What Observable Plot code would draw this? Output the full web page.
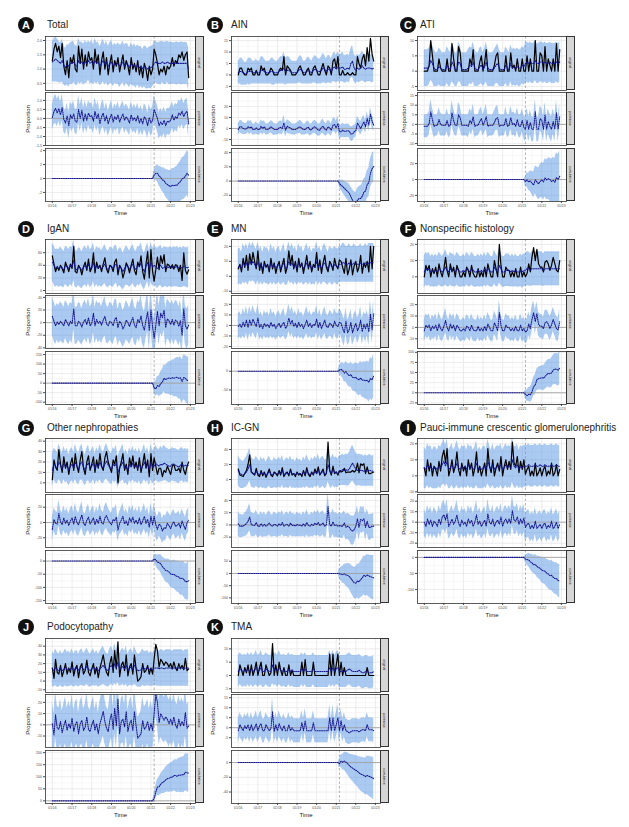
<!DOCTYPE html>
<html><head><meta charset="utf-8">
<script src="https://cdn.jsdelivr.net/npm/d3@7"></script>
<script src="https://cdn.jsdelivr.net/npm/@observablehq/plot@0.6"></script>
<style>
html,body{margin:0;padding:0;background:#fff;}
#root{position:relative;width:629px;height:827px;overflow:hidden;font-family:"Liberation Sans",Arial,sans-serif;}
.badge{position:absolute;width:16px;height:16px;border-radius:50%;background:#111;color:#fff;font-weight:bold;font-size:11px;line-height:16px;text-align:center;}
.title{position:absolute;font-size:10px;color:#222;white-space:nowrap;line-height:12px;}
.strip{position:absolute;box-sizing:border-box;background:#d6d6d6;border:0.8px solid #333;display:flex;align-items:center;justify-content:center;}
.strip span{writing-mode:vertical-rl;font-size:3.5px;color:#1a1a1a;white-space:nowrap;}
.ylab{position:absolute;font-size:6px;color:#1a1a1a;white-space:nowrap;transform:translate(-50%,-50%) rotate(-90deg);}
</style></head>
<body><div id="root"></div>
<script>
// ---------- data (monthly, Jan 2016 - Dec 2022) ----------
const totalObs = [1.3,1.7,1.9,1.6,1.8,1.4,1.9,1.1,0.8,1.3,0.7,1.4,
1.2,1.5,1.0,0.9,1.8,1.2,1.7,1.0,1.5,1.1,1.6,1.3,
1.4,1.0,1.7,1.2,1.5,0.8,1.3,1.6,1.0,1.4,0.8,1.2,
1.5,0.9,1.3,1.1,1.4,0.9,1.2,1.5,1.0,1.3,1.1,0.8,
1.4,1.0,1.2,0.9,1.3,0.8,1.1,0.7,1.2,1.0,0.6,1.1,
0.8,1.0,1.7,1.5,1.2,0.8,1.0,0.9,1.1,0.8,1.1,1.0,
1.1,1.4,1.1,1.3,1.2,1.5,1.4,1.6,1.3,1.5,1.6,0.7];
const totalPred = [1.25,1.30,1.35,1.30,1.25,1.20,1.30,1.15,1.05,1.15,1.10,1.20,
1.20,1.25,1.15,1.10,1.30,1.20,1.25,1.15,1.25,1.20,1.30,1.20,
1.25,1.15,1.30,1.20,1.25,1.10,1.20,1.30,1.15,1.25,1.10,1.20,
1.25,1.10,1.20,1.15,1.20,1.10,1.15,1.25,1.10,1.20,1.15,1.05,
1.20,1.10,1.15,1.05,1.15,1.05,1.10,1.00,1.10,1.05,1.00,1.05,
1.05,1.10,1.20,1.25,1.20,1.20,1.20,1.25,1.20,1.20,1.25,1.20,
1.20,1.20,1.20,1.20,1.20,1.20,1.20,1.20,1.20,1.20,1.20,1.00];
const totalBand = [0.70,0.75,0.80,0.76,0.72,0.70,0.74,0.70,0.66,0.70,0.74,0.72,
0.75,0.72,0.68,0.70,0.76,0.74,0.70,0.72,0.75,0.70,0.68,0.72,
0.74,0.70,0.76,0.72,0.70,0.68,0.72,0.75,0.70,0.73,0.70,0.72,
0.75,0.72,0.70,0.68,0.72,0.75,0.70,0.72,0.74,0.70,0.72,0.70,
0.72,0.70,0.74,0.72,0.70,0.73,0.70,0.68,0.72,0.74,0.70,0.72,
0.74,0.72,0.75,0.73,0.72,0.74,0.76,0.72,0.74,0.75,0.72,0.74,
0.75,0.73,0.72,0.74,0.76,0.72,0.74,0.75,0.73,0.74,0.72,0.74];
const totalCumBand = [0.7,1.0,1.2,1.4,1.55,1.7,1.85,2.0,2.1,2.2,2.3,2.4,2.5,2.6,2.7,2.8,2.9,3.0,3.05,3.1,3.2,3.3];

const ainObs = [0,3,3,1,0,0,3,2,3,0,0,2,
0,0,4,2,3,0,0,1,3,2,0,0,
0,2,3,2,8,0,4,3,2,0,0,0,
1,3,4,2,0,0,2,3,0,0,3,4,
2,0,0,3,5,2,0,4,3,0,6,7,
3,8,0,0,2,0,0,1,0,0,1,0,
0,8,5,3,7,9,4,12,6,16,9,6];
const ainPred = [1,1.5,1.5,1,0.5,0.5,1.5,1.5,1.5,1,1,1.5,
1,1,2,2,1.5,1,1,1,1.5,1.5,1,1,
1,1.5,2,2,3,1.5,2,2,1.5,1,1,1,
1,2,2.5,2,1,1,1.5,2,1.5,1,2,2.5,
2,1.5,1.5,2,3,2.5,1.5,2.5,2.5,1.5,3,3.5,
2.5,3.5,3,3,3.5,2.5,2.5,3,2.5,5,6,3,
2,3,2.5,3,4,3,2.5,3,3,3,2.5,3];
const ainBand = [5,5.5,6,5.5,5,5,5.5,6,5.5,5,5,5.5,
5,5,6,6,5.5,5,5,5,5.5,6,5.5,5,
5,5.5,6,6,7,6,6,6,5.5,5,5,5,
5,5.5,6,6,5,5,5.5,6,5.5,5,5.5,6,
6,5.5,5.5,6,6.5,6,5.5,6,6,5.5,6,6.5,
6,6.5,6,6,6.5,6,6,6,6,6.5,7,6,
6,6,6,6,6.5,6,6,6,6,6,6,6];
const ainCumBand = [5,7,9,10,11,12,13,14,15,15.5,16,16.5,17,17.5,18,18.5,19,19.5,20,20.5,21,21.5];

const atiObs = [0,0,0,2,10,5,0,0,0,4,1,0,
0,0,4,0,0,9,4,0,0,8,6,0,
0,0,0,0,4,2,7,0,0,0,3,5,
0,3,7,0,0,0,0,2,5,6,0,0,
0,0,5,0,0,6,1,2,0,4,0,0,
4,0,0,5,0,4,0,0,10,0,0,6,
5,0,8,0,4,2,0,4,0,9,0,7];
const atiPred = [1,1,1,1.5,3.5,2.5,1,0.5,0.5,1.5,1,0.5,
0.5,0.5,2,1,0.5,3,2,0.5,0.5,3,2.5,0.5,
0.5,0.5,0.5,1,2,1.5,3,1,0.5,0.5,1.5,2,
0.5,1.5,3,1,0.5,0.5,0.5,1,2,2.5,1,0.5,
0.5,0.5,2,1,0.5,2.5,1,1.5,1,1.5,1,1,
2,1.5,2.5,3,2.5,3,2.5,2.5,3.5,2.5,2.5,3,
3,2.5,3,2.5,2.5,3,2.5,2.5,2.5,3,2.5,3];
const atiBand = [6,6,6,6,6.5,6,6,5.5,5.5,6,6,5.5,
5.5,5.5,6,6,5.5,6.5,6,5.5,5.5,6.5,6,5.5,
5.5,5.5,5.5,6,6,6,6.5,6,5.5,5.5,6,6,
5.5,6,6.5,6,5.5,5.5,5.5,6,6,6.5,6,5.5,
5.5,5.5,6,6,5.5,6,6,6,6,6,6,6,
6,6,6.5,6.5,6.5,6.5,6.5,6.5,6.5,6.5,6.5,6.5,
6.5,6.5,6.5,6.5,6.5,6.5,6.5,6.5,6.5,6.5,6.5,6.5];
const atiCumBand = [6,9,11,13,14.5,16,17.5,19,20,21,22,23,24,25,26,27,28,29,30,31,31.5,32];

const ignObs = [55,42,30,38,32,40,35,28,45,38,30,42,
35,70,30,28,40,35,25,38,45,32,50,30,
36,60,28,45,35,40,30,42,52,34,28,40,
38,30,45,50,25,40,35,20,30,44,38,28,
40,50,32,25,45,38,55,30,18,42,62,20,
65,30,15,33,53,33,55,43,57,30,42,40,
35,41,34,41,40,30,40,16,60,32,26,33];
const ignPred = [45,40,35,37,35,38,36,33,40,38,35,40,
37,48,35,33,38,36,32,37,40,35,42,35,
37,45,33,40,36,38,34,38,42,36,33,38,
38,35,40,42,33,38,36,30,35,40,38,34,
38,42,36,33,40,38,44,35,30,38,45,33,
45,37,40,38,35,38,40,35,37,38,36,37,
38,36,38,37,38,36,37,36,38,37,36,37];
const ignBand = [30,31,30,29,30,31,30,29,30,31,30,30,
31,32,30,29,30,31,29,30,31,30,31,30,
30,31,29,30,31,30,29,30,31,30,29,30,
31,30,31,30,29,30,31,29,30,31,30,29,
30,31,30,29,30,31,32,30,29,30,31,30,
31,30,31,31,32,31,32,31,32,31,32,31,
32,31,32,31,32,31,32,31,32,31,32,32];
const ignCumBand = [30,40,48,55,61,66,71,76,81,85,89,93,97,101,104,108,111,114,117,120,123,126];

const mnObs = [5,8,3,12,6,14,4,15,8,16,10,5,
17,4,9,2,10,6,8,3,12,5,9,2,
7,10,3,8,12,2,6,17,8,14,5,10,
3,12,6,9,2,8,14,5,10,3,8,6,
16,4,11,2,9,14,6,3,10,8,4,12,
7,5,11,10,6,2,12,1,5,11,1,7,
10,3,6,14,2,9,6,10,3,20,5,20];
const mnPred = [6,7,5,9,7,9,6,10,8,10,8,6,
10,6,8,5,8,7,7,5,9,6,8,5,
7,8,5,7,9,5,6,10,7,9,6,8,
5,9,7,8,5,7,9,6,8,5,7,6,
10,6,8,5,8,9,7,5,8,7,6,8,
7,6,8,8,9,9,8,8,9,8,8,9,
8,8,8,9,8,8,9,8,9,9,9,9];
const mnBand = [12,12,11,13,12,13,12,13,12,13,12,12,
13,12,12,11,12,12,12,11,13,12,12,11,
12,12,11,12,13,11,12,13,12,13,12,12,
11,13,12,12,11,12,13,12,12,11,12,12,
13,12,12,11,12,13,12,11,12,12,12,12,
12,12,12,12,13,13,12,12,13,12,12,13,
12,12,12,13,12,12,13,12,13,13,13,13];
const mnCumBand = [12,17,21,24,27,29,31,33,35,37,39,41,43,44,46,48,49,51,53,55,56,58];

const nsObs = [0,7,4,7,0,5,2,6,0,8,3,0,
5,12,4,0,8,3,6,0,7,4,0,0,
3,0,6,4,0,7,2,0,0,5,0,3,
0,6,0,8,4,0,0,10,5,0,20,7,
0,0,6,4,4,0,3,0,5,0,0,6,
0,3,0,2,8,3,12,18,10,17,8,6,
6,3,9,10,8,4,7,12,8,4,3,10];
const nsPred = [3,5,4,5,3,4,3,4,3,5,4,3,
4,6,4,3,5,4,4,3,5,4,3,3,
4,3,5,4,3,5,4,3,3,4,3,4,
3,5,3,5,4,3,3,6,4,3,7,5,
3,3,4,4,4,3,4,3,4,3,3,4,
3,4,4,5,5,4,5,5,5,5,5,5,
5,4,5,5,5,5,5,5,5,5,5,5];
const nsBand = [10,10,10,10,9.5,10,9.5,10,9.5,10,10,9.5,
10,11,10,9.5,10,10,10,9.5,10,10,9.5,9.5,
10,9.5,10,10,9.5,10,10,9.5,9.5,10,9.5,10,
9.5,10,9.5,10,10,9.5,9.5,10.5,10,9.5,11,10,
9.5,9.5,10,10,10,9.5,10,9.5,10,9.5,9.5,10,
10,10,10,10.5,10.5,10,10.5,10.5,10.5,10.5,10.5,10.5,
10.5,10,10.5,10.5,10.5,10.5,10.5,10.5,10.5,10.5,10.5,10.5];
const nsCumBand = [10,14,17,19,21,23,25,27,28,29,30,31,32,33,34,35,36,37,38,39,40,41];

const otherObs = [3,22,15,12,32,18,10,25,14,20,8,18,
24,12,28,16,10,22,30,14,8,20,26,12,
18,25,10,22,14,28,16,12,24,30,20,15,
10,22,18,26,0,14,20,28,12,18,8,24,
16,26,14,20,12,24,10,18,28,14,22,6,
28,12,24,16,8,14,14,6,12,10,16,12,
8,16,18,12,12,14,10,20,12,8,16,20];
const otherPred = [12,18,16,14,20,17,13,19,15,17,12,16,
18,14,20,16,13,18,20,15,12,17,19,14,
16,19,13,18,15,20,16,14,18,21,17,15,
13,18,16,19,10,15,17,20,14,16,12,18,
15,19,15,17,14,18,13,16,20,15,18,12,
20,15,16,19,17,16,18,17,19,18,17,16,
16,18,17,17,16,15,17,18,16,17,16,17];
const otherBand = [16,15,16,15,17,16,15,16,15,16,15,16,
16,15,17,16,15,16,17,15,15,16,17,15,
16,16,15,16,15,17,16,15,16,17,16,15,
15,16,16,17,15,15,16,17,15,16,15,16,
15,16,15,16,15,16,15,16,17,15,16,15,
17,16,16,17,16,16,17,16,17,16,16,16,
16,16,16,16,16,16,16,16,16,16,16,16];
const otherCumBand = [15,21,26,30,34,37,40,43,45,48,50,52,54,56,58,60,62,64,66,68,70,72];

const icgnObs = [14,6,5,4,8,12,20,33,10,8,6,15,
6,4,12,5,10,3,8,14,6,4,10,8,
5,12,6,16,4,8,10,5,14,6,8,4,
10,6,8,4,12,5,16,7,4,10,6,14,
8,17,6,10,14,5,8,50,12,6,18,8,
10,6,11,10,11,15,9,10,10,10,12,10,
12,22,9,21,19,21,8,17,8,8,9,10];
const icgnPred = [12,8,7,6,8,10,14,20,10,8,7,11,
8,6,10,7,9,5,8,11,7,6,9,8,
7,10,7,12,6,8,9,7,11,7,8,6,
9,7,8,6,10,7,12,8,6,9,7,11,
8,13,7,9,11,7,8,20,12,8,13,9,
10,8,12,12,13,12,13,12,14,18,22,18,
14,12,13,12,12,11,12,11,12,12,11,12];
const icgnBand = [20,19,19,18,19,20,21,22,20,19,19,20,
19,18,20,19,20,18,19,20,19,18,20,19,
19,20,19,20,18,19,20,19,20,19,19,18,
20,19,19,18,20,19,21,19,18,20,19,20,
19,21,19,20,20,19,19,23,21,20,21,20,
20,19,20,20,21,20,21,21,22,23,24,23,
22,21,21,21,21,20,21,20,21,21,20,21];
const icgnCumBand = [20,28,35,40,45,49,53,57,60,63,66,69,72,74,77,79,81,84,86,88,90,92];

const pauciObs = [5,0,10,3,8,0,6,4,0,9,3,12,
16,8,17,0,4,10,2,6,15,4,0,8,
3,6,0,10,4,8,0,5,15,2,6,0,
4,8,0,17,6,2,10,0,5,8,3,12,
0,6,10,4,9,4,21,8,6,12,2,9,
4,10,1,4,6,0,3,0,8,0,2,5,
0,4,6,0,3,1,8,0,2,7,0,4];
const pauciPred = [5,4,7,5,6,4,5,5,4,6,5,7,
9,6,9,4,5,7,4,5,8,5,4,6,
5,6,4,7,5,6,4,5,8,4,5,4,
5,6,4,9,6,4,7,4,5,6,5,7,
4,5,7,5,6,5,10,6,5,7,4,6,
5,6,6,6,7,6,6,6,7,6,6,7,
6,6,7,6,6,6,7,6,6,7,6,6];
const pauciBand = [13,12,13,13,13,12,13,13,12,13,13,13,
14,13,14,12,13,13,12,13,14,13,12,13,
13,13,12,13,13,13,12,13,14,12,13,12,
13,13,12,14,13,12,13,12,13,13,13,13,
12,13,13,13,13,13,14,13,13,13,12,13,
13,13,13,13,13,13,13,13,13,13,13,13,
13,13,13,13,13,13,13,13,13,13,13,13];
const pauciCumBand = [12,17,21,24,27,29,31,33,35,37,39,40,42,43,45,46,47,48,49,50,51,52];

const podoObs = [15,3,25,10,8,18,5,12,20,8,15,10,
22,6,14,18,4,16,20,8,12,24,10,6,
14,20,8,16,4,15,22,30,18,10,6,20,
28,10,35,14,45,5,18,22,12,30,6,16,
20,8,30,14,0,2,5,20,10,12,18,8,
15,8,25,42,35,16,25,22,18,22,20,16,
20,14,22,15,12,20,14,18,13,26,12,14];
const podoPred = [14,12,16,13,12,15,12,13,16,13,14,13,
16,12,14,15,12,15,16,13,14,17,14,12,
14,16,13,15,12,14,16,18,15,13,12,16,
18,14,20,15,22,13,15,17,14,18,12,15,
16,13,18,15,12,12,13,16,14,14,15,13,
14,13,15,15,15,14,15,15,14,15,15,15,
15,14,15,15,15,15,15,15,14,15,15,15];
const podoBand = [20,19,21,20,19,20,19,20,21,20,20,19,
21,19,20,20,19,20,21,19,20,21,20,19,
20,21,19,20,19,20,21,22,20,19,19,21,
22,20,23,20,24,19,20,21,20,22,19,20,
21,19,22,20,19,19,20,21,20,20,20,19,
20,19,20,20,21,20,21,21,20,21,21,21,
21,20,21,21,21,21,21,21,20,21,21,21];
const podoCumBand = [20,27,33,38,42,46,49,52,55,58,60,62,64,66,68,70,72,73,75,77,78,80];

const tmaObs = [0,4,2,0,3,1,4,0,4,0,2,5,
0,3,5,0,0,4,2,0,1,12,0,4,
0,5,2,0,3,0,0,4,0,2,0,0,
0,0,0,5,0,6,0,0,0,0,5,0,
0,0,0,0,0,0,0,0,8,0,8,0,
4,8,0,5,0,3,0,0,0,0,0,0,
0,0,0,0,0,0,0,3,0,0,0,0];
const tmaPred = [1.5,2.5,2,1.5,2,1.5,2.5,1.5,2.5,1.5,2,3,
1.5,2,3,1.5,1.5,2.5,2,1.5,1.5,4,2,2.5,
1.5,3,2,1.5,2,1.5,1.5,2.5,1.5,2,1.5,1.5,
1.5,1.5,1.5,2.5,1.5,2.5,1.5,1.5,1.5,1.5,2.5,1.5,
1.5,1.5,1.5,1.5,1.5,1.5,1.5,1.5,3,1.5,3,1.5,
2.5,3,1.5,1.5,1.5,1.5,1.5,2,2.5,2,1.5,1.5,
1.5,1.5,2,1.5,1,1,1.5,1.5,1,1,1,1.5];
const tmaBand = [6,6,6,6,6,6,6,6,6,6,6,6.5,
6,6,6.5,6,6,6,6,6,6,7,6,6,
6,6.5,6,6,6,6,6,6,6,6,6,6,
6,6,6,6,6,6,6,6,6,6,6,6,
6,6,6,6,6,6,6,6,6.5,6,6.5,6,
6,6.5,6,6,6,6,6,6,6,6,6,6,
6,6,6,6,6,6,6,6,6,6,6,6];
const tmaCumBand = [6,8.5,10.5,12,13.5,15,16,17,18,19,20,21,22,23,23.5,24,25,26,27,27.5,28,29];

const stripLabels = ["original", "pointwise", "cumulative"];

// ---------- panel definitions ----------
const panels = [
  {letter:"A", title:"Total", col:0, row:0, obs:totalObs, pred:totalPred, band:totalBand, cumBand:totalCumBand,
   y:[{domain:[0.25,2.14], ticks:[0.5,1,1.5,2], dec:1},{domain:[-1.5,1.44], ticks:[-1.5,-1,-0.5,0,0.5,1], dec:1},{domain:[-3.3,4.3], ticks:[-2,0,2,4]}]},
  {letter:"B", title:"AIN", col:1, row:0, obs:ainObs, pred:ainPred, band:ainBand, cumBand:ainCumBand,
   y:[{domain:[-6.8,16.8], ticks:[-5,0,5,10,15]},{domain:[-15.5,32.7], ticks:[-10,0,10,20]},{domain:[-28.7,45.8], ticks:[-20,0,20,40]}]},
  {letter:"C", title:"ATI", col:2, row:0, obs:atiObs, pred:atiPred, band:atiBand, cumBand:atiCumBand,
   y:[{domain:[-6.3,11.3], ticks:[-5,0,5,10]},{domain:[-11,16.6], ticks:[-10,-5,0,5,10,15]},{domain:[-27.7,39], ticks:[-20,0,20]}]},
  {letter:"D", title:"IgAN", col:0, row:1, obs:ignObs, pred:ignPred, band:ignBand, cumBand:ignCumBand,
   y:[{domain:[-4.7,81], ticks:[0,20,40,60]},{domain:[-41,43], ticks:[-40,-20,0,20,40]},{domain:[-112,166], ticks:[-100,-50,0,50,100,150]}]},
  {letter:"E", title:"MN", col:1, row:1, obs:mnObs, pred:mnPred, band:mnBand, cumBand:mnCumBand,
   y:[{domain:[-11.5,24.6], ticks:[-10,0,10,20]},{domain:[-21.9,28.4], ticks:[-20,-10,0,10,20]},{domain:[-89,52.7], ticks:[-50,0]}]},
  {letter:"F", title:"Nonspecific histology", col:2, row:1, obs:nsObs, pred:nsPred, band:nsBand, cumBand:nsCumBand,
   y:[{domain:[-10.3,23], ticks:[0,10,20]},{domain:[-18.5,28], ticks:[-10,0,10,20]},{domain:[-29,102], ticks:[-25,0,25,50,75,100]}]},
  {letter:"G", title:"Other nephropathies", col:0, row:2, obs:otherObs, pred:otherPred, band:otherBand, cumBand:otherCumBand,
   y:[{domain:[-9.3,42.6], ticks:[0,10,20,30,40]},{domain:[-32.7,36.6], ticks:[-20,0,20]},{domain:[-161,40], ticks:[-150,-100,-50,0]}]},
  {letter:"H", title:"IC-GN", col:1, row:2, obs:icgnObs, pred:icgnPred, band:icgnBand, cumBand:icgnCumBand,
   y:[{domain:[-17.3,54.7], ticks:[0,20,40]},{domain:[-37,49.8], ticks:[-20,0,20,40]},{domain:[-123,94], ticks:[-100,-50,0,50]}]},
  {letter:"I", title:"Pauci-immune crescentic glomerulonephritis", col:2, row:2, obs:pauciObs, pred:pauciPred, band:pauciBand, cumBand:pauciCumBand,
   y:[{domain:[-10.4,23.3], ticks:[-10,0,10,20]},{domain:[-24.1,26.4], ticks:[-20,-10,0,10,20]},{domain:[-144,21.5], ticks:[-100,-50,0]}]},
  {letter:"J", title:"Podocytopathy", col:0, row:3, obs:podoObs, pred:podoPred, band:podoBand, cumBand:podoCumBand,
   y:[{domain:[-13.1,48.8], ticks:[-10,0,10,20,30,40]},{domain:[-20.2,27], ticks:[-10,0,10,20]},{domain:[-11,209], ticks:[0,50,100,150,200]}]},
  {letter:"K", title:"TMA", col:1, row:3, obs:tmaObs, pred:tmaPred, band:tmaBand, cumBand:tmaCumBand,
   y:[{domain:[-6.4,13.9], ticks:[-5,0,5,10]},{domain:[-9.9,16.6], ticks:[-5,0,5,10,15]},{domain:[-55.6,16.4], ticks:[-40,-20,0]}]}
];

// ---------- layout ----------
const cols = [
  {L:45, W:150, badgeX:26, titleX:47, propX:28},
  {L:231, W:149, badgeX:215, titleX:231, propX:213},
  {L:417, W:149, badgeX:408, titleX:420, propX:404}
];
const rowTops = [36, 239, 438, 638];
const badgeYs = [25, 229, 428, 627];
const subs = [[0,54],[56,109],[112,165]];
const STRIP = 9, ML = 22, MB = 18;

// ---------- time axis ----------
const months = d3.utcMonth.range(new Date(Date.UTC(2016,0,1)), new Date(Date.UTC(2023,0,1)));
const intervention = new Date(Date.UTC(2021,2,1));
const postStart = months.findIndex(d => +d === +intervention);
const yearTicks = d3.utcYear.range(new Date(Date.UTC(2016,0,1)), new Date(Date.UTC(2023,0,2)));
const midYears = yearTicks.slice(0,-1).map(d => d3.utcMonth.offset(d, 6));
const span = months[months.length-1] - months[0];
const xDomain = [new Date(+months[0] - span*0.05), new Date(+months[months.length-1] + span*0.05)];
const fmtMonth = d3.utcFormat("%m/%y");

function buildRows(p) {
  let c = 0;
  return months.map((date, i) => {
    const obs = p.obs[i], pred = p.pred[i], hw = p.band[i];
    const pw = obs - pred;
    let cum = 0, cLo = 0, cHi = 0;
    if (i >= postStart) {
      c += pw; cum = c;
      const h = p.cumBand[i - postStart];
      cLo = c - h; cHi = c + h;
    }
    return {date, obs, pred, lo: pred - hw, hi: pred + hw, pw, pwLo: pw - hw, pwHi: pw + hw, cum, cLo, cHi};
  });
}
function minorOf(ticks, dom) {
  const s = ticks[1] - ticks[0], out = [];
  for (let v = ticks[0] - s/2; v <= ticks[ticks.length-1] + s/2 + 1e-9; v += s)
    if (v >= dom[0] && v <= dom[1]) out.push(v);
  return out;
}

const root = document.getElementById("root");
function addDiv(cls, css, html) {
  const d = document.createElement("div");
  if (cls) d.className = cls;
  Object.assign(d.style, css);
  if (html != null) d.innerHTML = html;
  root.appendChild(d);
  return d;
}

function subPlot(p, k, rows, col, h, isBottom) {
  const spec = p.y[k];
  const f = [["lo","hi","pred"],["pwLo","pwHi","pw"],["cLo","cHi","cum"]][k];
  const tf = spec.dec ? (d => d.toFixed(spec.dec)) : (d => String(d));
  const marks = [
    Plot.ruleX(midYears, {stroke:"#efefef", strokeWidth:0.5}),
    Plot.ruleX(yearTicks, {stroke:"#e4e4e4", strokeWidth:0.7}),
    Plot.ruleY(minorOf(spec.ticks, spec.domain), {stroke:"#efefef", strokeWidth:0.5}),
    Plot.ruleY(spec.ticks, {stroke:"#e4e4e4", strokeWidth:0.7}),
    Plot.areaY(rows, {x:"date", y1:f[0], y2:f[1], fill:"#3d85e0", fillOpacity:0.43, clip:true})
  ];
  if (k > 0) marks.push(Plot.ruleY([0], {stroke:"#a3a3a3", strokeWidth:0.9}));
  marks.push(Plot.ruleX([intervention], {stroke:"#8f8f8f", strokeWidth:0.7, strokeDasharray:"2.5,2"}));
  if (k === 0) marks.push(Plot.lineY(rows, {x:"date", y:"obs", stroke:"#000", strokeWidth:1.2, clip:true}));
  marks.push(Plot.lineY(rows, {x:"date", y:f[2], stroke:"#15158f", strokeWidth:1.05, strokeDasharray:"1,1.2", clip:true}));
  marks.push(Plot.axisY(spec.ticks, {tickSize:2, tickPadding:1.5, fontSize:3.6, tickFormat:tf, label:null}));
  if (isBottom) {
    marks.push(Plot.axisX(yearTicks, {tickSize:2, tickPadding:1.5, fontSize:3.4, tickFormat:fmtMonth, label:null}));
    marks.push(Plot.text(["Time"], {text:d => d, frameAnchor:"bottom", dy:13, fontSize:6, fill:"#1a1a1a"}));
  }
  marks.push(Plot.frame({stroke:"#333", strokeWidth:0.8}));
  const opts = {
    width: ML + col.W, height: h + (isBottom ? MB : 0),
    marginLeft: ML, marginRight: 0, marginTop: 0, marginBottom: isBottom ? MB : 0,
    x: isBottom ? {type:"utc", domain:xDomain} : {type:"utc", domain:xDomain, axis:null},
    y: {domain: spec.domain},
    style: {fontFamily:"'Liberation Sans', Arial, sans-serif", color:"#4d4d4d", background:"transparent", overflow:"visible"},
    marks
  };
  return Plot.plot(opts);
}

for (const p of panels) {
  const col = cols[p.col], top = rowTops[p.row];
  const rows = buildRows(p);
  subs.forEach(([a, b], k) => {
    const h = b - a;
    const svg = subPlot(p, k, rows, col, h, k === 2);
    svg.style.position = "absolute";
    svg.style.left = (col.L - ML) + "px";
    svg.style.top = (top + a) + "px";
    root.appendChild(svg);
    addDiv("strip", {left:(col.L + col.W - 0.4) + "px", top:(top + a) + "px", width:STRIP + "px", height:h + "px"}, "<span>" + stripLabels[k] + "</span>");
  });
  addDiv("ylab", {left: col.propX + "px", top: (top + (subs[1][0] + subs[1][1]) / 2) + "px"}, "Proportion");
  addDiv("badge", {left:(col.badgeX - 8) + "px", top:(badgeYs[p.row] - 8) + "px"}, p.letter);
  addDiv("title", {left: col.titleX + "px", top:(badgeYs[p.row] - 6) + "px"}, p.title);
}
</script>
</body></html>
